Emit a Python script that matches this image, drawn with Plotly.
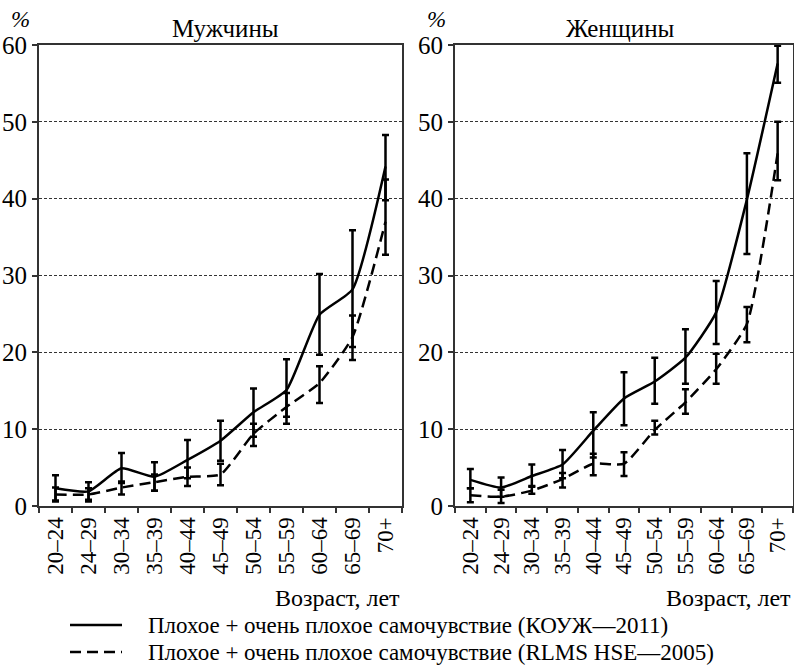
import plotly.graph_objects as go

# Age groups
ages = ["20\u201324", "24\u201329", "30\u201334", "35\u201339", "40\u201344", "45\u201349",
        "50\u201354", "55\u201359", "60\u201364", "65\u201369", "70+"]

# Men, KOUZh-2011 (solid): share with poor + very poor health, % and 95% bounds
men_k_mean = [2.3, 1.9, 4.9, 3.8, 6.0, 8.5, 12.2, 15.1, 24.9, 28.2, 44.2]
men_k_lo = [0.6, 0.8, 3.0, 2.0, 3.6, 5.9, 9.0, 11.6, 19.7, 20.7, 39.8]
men_k_hi = [4.0, 3.1, 6.9, 5.7, 8.6, 11.1, 15.3, 19.1, 30.2, 35.9, 48.3]

# Men, RLMS HSE-2005 (dashed)
men_r_mean = [1.5, 1.5, 2.4, 3.1, 3.8, 4.1, 9.4, 12.9, 16.0, 22.0, 37.0]
men_r_lo = [0.7, 0.6, 1.5, 2.0, 2.6, 2.7, 7.8, 10.7, 13.4, 19.0, 32.7]
men_r_hi = [2.4, 2.3, 3.2, 4.1, 5.0, 5.5, 10.7, 14.7, 18.2, 24.8, 42.5]

# Women, KOUZh-2011 (solid)
wom_k_mean = [3.4, 2.4, 3.9, 5.4, 9.8, 14.0, 16.2, 19.3, 25.2, 39.9, 57.6]
wom_k_lo = [2.3, 1.2, 2.5, 3.6, 6.3, 10.5, 13.3, 15.9, 21.1, 32.8, 55.1]
wom_k_hi = [4.8, 3.7, 5.4, 7.3, 12.2, 17.4, 19.3, 23.0, 29.3, 45.9, 59.9]

# Women, RLMS HSE-2005 (dashed)
wom_r_mean = [1.4, 1.2, 2.0, 3.5, 5.5, 5.5, 9.9, 13.5, 17.8, 23.7, 45.9]
wom_r_lo = [0.5, 0.4, 1.6, 2.4, 4.0, 3.9, 9.3, 12.0, 15.9, 21.3, 42.4]
wom_r_hi = [2.3, 2.1, 2.6, 4.3, 6.8, 7.0, 11.1, 15.2, 19.8, 25.9, 50.0]

y_ticks = [0, 10, 20, 30, 40, 50, 60]
panel_titles = ["Мужчины", "Женщины"]
x_title = "Возраст, лет"
legend_labels = ["Плохое + очень плохое самочувствие (КОУЖ\u20142011)",
                 "Плохое + очень плохое самочувствие (RLMS HSE\u20142005)"]

W, H = 794, 666
FONT = "'Liberation Serif', 'Times New Roman', serif"
AX = "#333333"
DASH = "11px,6px"


def px(x):
    return x / W


def py(y):
    return 1 - y / H


def series(mean, lo, hi, dash, xa, ya):
    return go.Scatter(
        x=ages, y=mean, xaxis=xa, yaxis=ya, mode="lines",
        line=dict(color="black", width=2.5, dash=dash, shape="spline", smoothing=0.5),
        error_y=dict(type="data", symmetric=False,
                     array=[h - m for h, m in zip(hi, mean)],
                     arrayminus=[m - l for m, l in zip(mean, lo)],
                     color="black", thickness=2.5, width=3.5),
        showlegend=False, hoverinfo="skip",
    )


fig = go.Figure()
fig.add_trace(series(men_k_mean, men_k_lo, men_k_hi, "solid", "x", "y"))
fig.add_trace(series(men_r_mean, men_r_lo, men_r_hi, DASH, "x", "y"))
fig.add_trace(series(wom_k_mean, wom_k_lo, wom_k_hi, "solid", "x2", "y2"))
fig.add_trace(series(wom_r_mean, wom_r_lo, wom_r_hi, DASH, "x2", "y2"))

xcommon = dict(type="category", range=[-0.5, 10.5], tickson="boundaries",
               ticks="outside", ticklen=5, tickwidth=1.5, tickcolor=AX,
               tickangle=-90, showline=True, linecolor=AX, linewidth=2,
               mirror=True, showgrid=False, zeroline=False, automargin=False,
               tickfont=dict(family=FONT, size=23, color="black"))
ycommon = dict(range=[0, 60], tickvals=y_ticks, ticks="outside", ticklen=5,
               tickwidth=1.5, tickcolor=AX, showline=True, linecolor=AX,
               linewidth=2, mirror=True, showgrid=True, gridcolor=AX,
               gridwidth=1, griddash="3px,2px", zeroline=False, automargin=False,
               tickfont=dict(family=FONT, size=25, color="black"))

y_dom = [py(506), py(45)]
fig.update_layout(
    width=W, height=H,
    margin=dict(l=0, r=0, t=0, b=0, autoexpand=False),
    paper_bgcolor="white", plot_bgcolor="white",
    showlegend=False,
    font=dict(family=FONT, color="black"),
    xaxis=dict(xcommon, domain=[px(39), px(402)], anchor="y"),
    yaxis=dict(ycommon, domain=y_dom, anchor="x"),
    xaxis2=dict(xcommon, domain=[px(455), px(793)], anchor="y2"),
    yaxis2=dict(ycommon, domain=y_dom, anchor="x2"),
)

ann = []
# panel titles and percent marks
for cx, pct_x, title in [(226, 20, panel_titles[0]), (620, 436, panel_titles[1])]:
    ann.append(dict(x=px(cx), y=py(29), xref="paper", yref="paper", text=title,
                    showarrow=False, xanchor="center", yanchor="middle",
                    font=dict(family=FONT, size=25, color="black")))
    ann.append(dict(x=px(pct_x), y=py(20), xref="paper", yref="paper", text="<i>%</i>",
                    showarrow=False, xanchor="center", yanchor="middle",
                    font=dict(family=FONT, size=23, color="black")))
# axis titles
for rx in [402, 793]:
    ann.append(dict(x=px(rx), y=py(598), xref="paper", yref="paper", text=x_title,
                    showarrow=False, xanchor="right", yanchor="middle",
                    font=dict(family=FONT, size=24, color="black")))

# legend drawn as line samples with labels
shapes = []
for i, (lab, dash) in enumerate(zip(legend_labels, ["solid", DASH])):
    yy = 625 + i * 27
    shapes.append(dict(type="line", xref="paper", yref="paper",
                       x0=px(70), x1=px(122), y0=py(yy), y1=py(yy),
                       line=dict(color="black", width=2.5, dash=dash)))
    ann.append(dict(x=px(146), y=py(yy), xref="paper", yref="paper", text=lab,
                    showarrow=False, xanchor="left", yanchor="middle",
                    font=dict(family=FONT, size=23, color="black")))

fig.update_layout(annotations=ann, shapes=shapes)
fig.write_html("out.html")
